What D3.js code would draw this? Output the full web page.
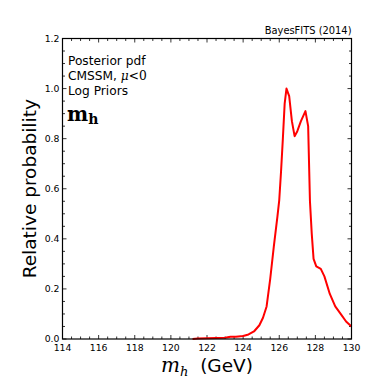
<!DOCTYPE html>
<html><head><meta charset="utf-8">
<script src="https://cdn.jsdelivr.net/npm/d3@7"></script>
<style>body{margin:0;background:#fff}svg{display:block;font-family:"DejaVu Sans",sans-serif}</style>
</head><body><svg id="c" width="390" height="390"></svg>
<script>
const mh = [121.2,121.5,122,122.5,123,123.3,123.6,124,124.3,124.6,124.9,125.1,125.3,125.5,125.7,125.9,126.0,126.1,126.2,126.3,126.4,126.55,126.7,126.85,127.0,127.2,127.45,127.6,127.7,127.8,127.9,128.05,128.3,128.5,128.8,129.1,129.4,129.7,130];
const prob = [0,0.002,0.003,0.004,0.005,0.009,0.009,0.012,0.018,0.03,0.055,0.085,0.13,0.24,0.37,0.49,0.555,0.67,0.8,0.94,1.0,0.97,0.87,0.81,0.83,0.87,0.91,0.85,0.55,0.42,0.32,0.29,0.28,0.25,0.18,0.13,0.10,0.07,0.05];
const xTicks = [114,116,118,120,122,124,126,128,130];
const yTicks = [0.0,0.2,0.4,0.6,0.8,1.0,1.2];

const svg = d3.select("#c");
const L=62.5, R=351.5, T=38.5, B=339;
const x = d3.scaleLinear().domain([114,130]).range([L,R]);
const y = d3.scaleLinear().domain([0,1.2]).range([B,T]);

const g = svg.append("g");
const xMinor = d3.range(114,130.01,0.5), yMinor = d3.range(0,1.2001,0.05);
const tk = g.append("g").attr("stroke","#000").attr("stroke-width",0.8);
xMinor.forEach(v=>{
  const len = xTicks.includes(+v.toFixed(2)) ? 4 : 2.5;
  tk.append("line").attr("x1",x(v)).attr("x2",x(v)).attr("y1",B).attr("y2",B-len);
  tk.append("line").attr("x1",x(v)).attr("x2",x(v)).attr("y1",T).attr("y2",T+len);
});
yMinor.forEach(v=>{
  const major = Math.abs(v*5-Math.round(v*5))<1e-6;
  const len = major ? 4 : 2.5;
  tk.append("line").attr("y1",y(v)).attr("y2",y(v)).attr("x1",L).attr("x2",L+len);
  tk.append("line").attr("y1",y(v)).attr("y2",y(v)).attr("x1",R).attr("x2",R-len);
});

const line = d3.line().x((d,i)=>x(mh[i])).y((d,i)=>y(prob[i]));
g.append("path").datum(prob).attr("d",line).attr("fill","none").attr("stroke","#ff0000").attr("stroke-width",2).attr("stroke-linejoin","round");

g.append("rect").attr("x",L).attr("y",T).attr("width",R-L).attr("height",B-T).attr("fill","none").attr("stroke","#000").attr("stroke-width",1.2);

xTicks.forEach(v=>g.append("text").attr("x",x(v)).attr("y",B+12).attr("text-anchor","middle").attr("font-size",9.3).text(v));
yTicks.forEach(v=>g.append("text").attr("x",L-3).attr("y",y(v)+3.3).attr("text-anchor","end").attr("font-size",9.3).text(v.toFixed(1)));

svg.append("text").attr("x",R).attr("y",34).attr("text-anchor","end").attr("font-size",9.9).text("BayesFITS (2014)");

const xl = svg.append("text").attr("x",(L+R)/2).attr("y",372).attr("text-anchor","middle").attr("font-size",18.5);
xl.append("tspan").attr("font-family","DejaVu Serif").attr("font-style","italic").attr("font-size",20).text("m");
xl.append("tspan").attr("font-family","DejaVu Serif").attr("font-style","italic").attr("font-size",13).attr("dy",4).text("h");
xl.append("tspan").attr("dy",-4).text("\u00a0 (GeV)");
svg.append("text").attr("transform",`translate(36,${(T+B)/2}) rotate(-90)`).attr("text-anchor","middle").attr("font-size",18.5).text("Relative probability");

const ann = svg.append("g").attr("font-size",12.2);
ann.append("text").attr("x",68).attr("y",64.5).text("Posterior pdf");
const t2 = ann.append("text").attr("x",68).attr("y",79.5);
t2.append("tspan").text("CMSSM, ");
t2.append("tspan").attr("font-family","DejaVu Serif").attr("font-style","italic").text("\u03bc");
t2.append("tspan").attr("font-family","DejaVu Serif").text("<0");
ann.append("text").attr("x",68).attr("y",94.5).text("Log Priors");
const t4 = svg.append("text").attr("x",67).attr("y",120.5).attr("font-family","DejaVu Serif").attr("font-weight","bold").attr("font-size",20);
t4.append("tspan").text("m");
t4.append("tspan").attr("font-size",14).attr("dy",3.5).text("h");
</script></body></html>
